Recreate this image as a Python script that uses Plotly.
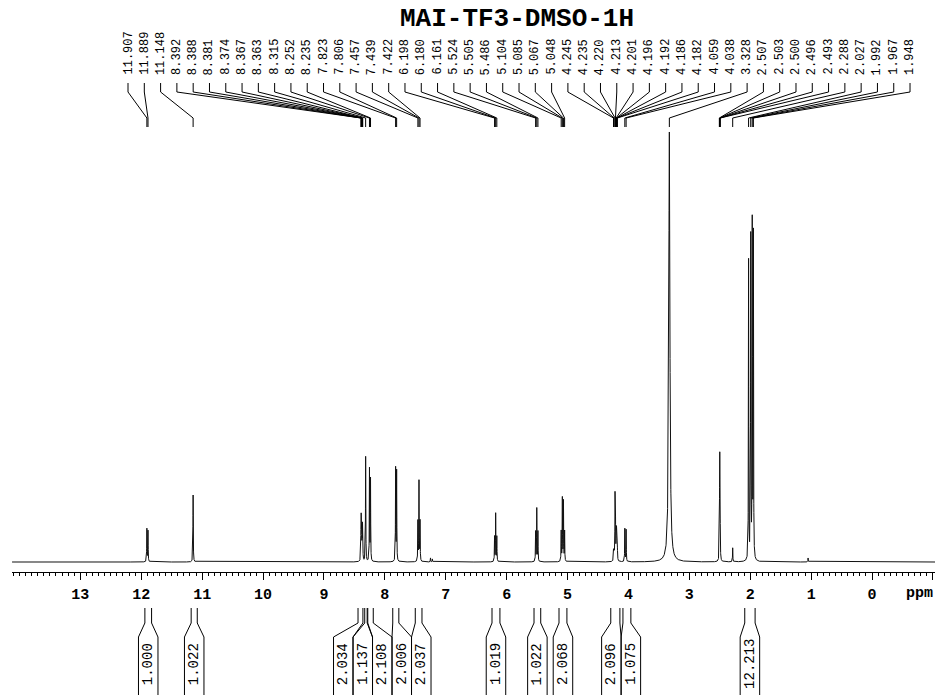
import numpy as np
import plotly.graph_objects as go

# ---- data -------------------------------------------------------------
title_text = "MAI-TF3-DMSO-1H"

# picked shifts (ppm) printed above the spectrum
shift_labels = ["11.907", "11.889", "11.148", "8.392", "8.388", "8.381", "8.374",
                "8.367", "8.363", "8.315", "8.252", "8.235", "7.823", "7.806",
                "7.457", "7.439", "7.422", "6.198", "6.180", "6.161", "5.524",
                "5.505", "5.486", "5.104", "5.085", "5.067", "5.048", "4.245",
                "4.235", "4.220", "4.213", "4.201", "4.196", "4.192", "4.186",
                "4.182", "4.059", "4.038", "3.328", "2.507", "2.503", "2.500",
                "2.496", "2.493", "2.288", "2.027", "1.992", "1.967", "1.948"]

# line amplitudes for each picked shift (arbitrary intensity units)
shift_amps = [33, 31, 67, 25, 35, 20, 15,
              28, 20, 105, 92, 82, 93, 90,
              40, 80, 40, 25, 48, 25, 30,
              53, 30, 30, 63, 60, 30, 10,
              18, 62, 42, 22, 20, 18, 14,
              10, 33, 32, 430, 12, 33, 78,
              33, 12, 14, 300, 322, 334, 324]

# small unlabelled signals
minor_ppm = [7.25, 7.22, 1.05]
minor_amps = [4, 3, 4]

# integration regions: (start ppm, end ppm, integral)
int_start = [11.94, 11.18, 8.44, 8.33, 8.28, 7.87, 7.50, 6.24, 5.55, 5.14, 4.29, 4.09, 2.09]
int_end = [11.83, 11.08, 8.36, 8.29, 8.19, 7.77, 7.39, 6.11, 5.44, 5.01, 4.14, 3.96, 1.92]
int_values = ["1.000", "1.022", "2.034", "1.137", "2.108", "2.006", "2.037",
              "1.019", "1.022", "2.068", "2.096", "1.075", "12.213"]

axis_ticks = list(range(0, 14))

# ---- geometry / style ---------------------------------------------------
W, H = 941, 695
X_LEFT, X_RIGHT = 14.122, -1.034
Y_MIN, Y_MAX = -133, 562
LW_DEFAULT = 0.003      # half width at half height, ppm
LW_WATER = 0.011
MONO = "Liberation Mono"


def py(px):
    """figure pixel row -> paper fraction"""
    return 1 - px / H


# ---- spectrum ---------------------------------------------------------
centres = np.array([float(s) for s in shift_labels] + minor_ppm)
amps = np.array(shift_amps + minor_amps, dtype=float)
widths = np.where(np.isclose(centres, 3.328), LW_WATER, LW_DEFAULT)

grid = np.union1d(np.arange(X_RIGHT, X_LEFT, 0.0008), centres)
spec = np.zeros_like(grid)
for c, a, g in zip(centres, amps, widths):
    spec += a * g * g / (g * g + (grid - c) ** 2)

fig = go.Figure()
fig.add_trace(go.Scatter(x=grid, y=spec, mode="lines",
                         line=dict(color="#111111", width=1),
                         hoverinfo="skip", showlegend=False))

# ---- peak labels with leader lines -------------------------------------
n_lab = len(shift_labels)
slot_left, slot_right = 12.217, -0.624
slots = np.linspace(slot_left, slot_right, n_lab)
shapes = []
annotations = []
for lab, xs in zip(shift_labels, slots):
    xp = float(lab)
    annotations.append(dict(x=xs, y=py(77), xref="x", yref="paper", text=lab,
                            textangle=-90, showarrow=False, yanchor="bottom",
                            font=dict(family=MONO, size=12, color="black")))
    path = (f"M {xs},{py(83)} L {xs},{py(92)} L {xp},{py(118)} L {xp},{py(127)}")
    shapes.append(dict(type="path", path=path, xref="x", yref="paper",
                       line=dict(color="black", width=1)))

# ---- integral boxes -----------------------------------------------------
box_w = 19.5 / 60.9   # ppm width of a label box
mids = [(a + b) / 2 for a, b in zip(int_start, int_end)]
# spread overlapping boxes: clusters centred on the mean of their members
clusters = [[i] for i in range(len(mids))]
changed = True
while changed:
    changed = False
    centres_c = [np.mean([mids[i] for i in cl]) for cl in clusters]
    for k in range(len(clusters) - 1):
        n1, n2 = len(clusters[k]), len(clusters[k + 1])
        right_edge = centres_c[k] - n1 * box_w / 2
        left_edge = centres_c[k + 1] + n2 * box_w / 2
        if left_edge > right_edge:
            clusters[k] = clusters[k] + clusters[k + 1]
            del clusters[k + 1]
            changed = True
            break
box_c = [0.0] * len(mids)
for cl in clusters:
    c = np.mean([mids[i] for i in cl])
    start = c + len(cl) * box_w / 2
    for j, i in enumerate(cl):
        box_c[i] = start - (j + 0.5) * box_w

for a, b, c, v in zip(int_start, int_end, box_c, int_values):
    bl, br = c + box_w / 2, c - box_w / 2
    for edge, bx in ((a, bl), (b, br)):
        path = (f"M {edge},{py(608)} L {edge},{py(623)} L {bx},{py(637)} L {bx},{py(700)}")
        shapes.append(dict(type="path", path=path, xref="x", yref="paper",
                           line=dict(color="black", width=1)))
    annotations.append(dict(x=c, y=py(664), xref="x", yref="paper", text=v,
                            textangle=-90, showarrow=False, yanchor="middle",
                            font=dict(family=MONO, size=14, color="black")))

# ---- title and unit ----------------------------------------------------
annotations.append(dict(x=5.837, y=py(19), xref="x", yref="paper", text=title_text,
                        showarrow=False, yanchor="middle", xanchor="center",
                        font=dict(family=MONO, size=26, color="black", weight="bold")))
annotations.append(dict(x=-0.78, y=py(593), xref="x", yref="paper", text="ppm",
                        showarrow=False, yanchor="middle", xanchor="center",
                        font=dict(family=MONO, size=15, color="black", weight="bold")))

fig.update_layout(
    width=W, height=H,
    margin=dict(l=12, r=6, t=0, b=0),
    paper_bgcolor="white", plot_bgcolor="white",
    shapes=shapes, annotations=annotations,
    xaxis=dict(range=[X_LEFT, X_RIGHT], anchor="free", position=py(572),
               showline=True, linecolor="black", linewidth=1,
               ticks="outside", ticklen=7, tickwidth=1, tickcolor="black",
               tickvals=axis_ticks + [-1], ticktext=[str(t) for t in axis_ticks] + [""],
               tickfont=dict(family=MONO, size=15, color="black", weight="bold"),
               ticklabelstandoff=1,
               minor=dict(dtick=0.1, ticklen=3, tickcolor="black", ticks="outside"),
               showgrid=False, zeroline=False, fixedrange=True),
    yaxis=dict(range=[Y_MIN, Y_MAX], visible=False, domain=[0, 1], fixedrange=True),
)

fig.write_html("out.html")
